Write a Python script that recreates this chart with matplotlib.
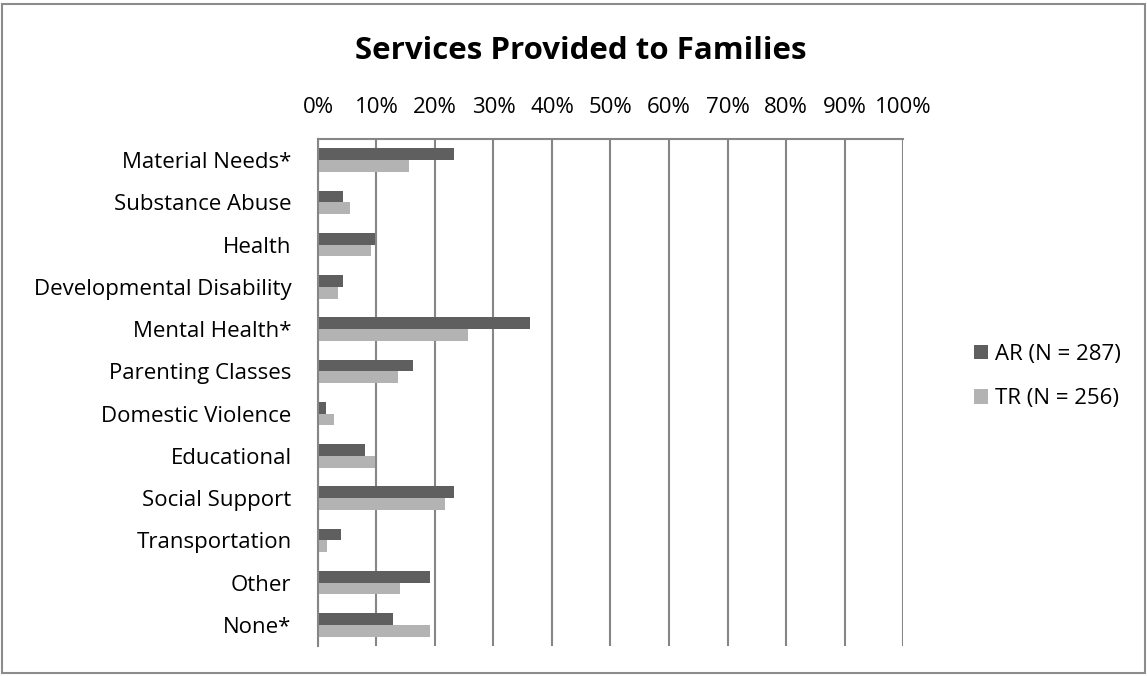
import numpy as np
import matplotlib.pyplot as plt
from matplotlib.patches import Rectangle

plt.rcParams['font.family'] = ['Open Sans', 'DejaVu Sans']

# Percent of families receiving each service
categories = ['Material Needs*', 'Substance Abuse', 'Health', 'Developmental Disability',
              'Mental Health*', 'Parenting Classes', 'Domestic Violence', 'Educational',
              'Social Support', 'Transportation', 'Other', 'None*']
ar_pct = [23.3, 4.2, 9.7, 4.2, 36.2, 16.3, 1.4, 8.0, 23.3, 3.9, 19.1, 12.8]
tr_pct = [15.6, 5.5, 9.0, 3.5, 25.7, 13.6, 2.7, 9.7, 21.8, 1.5, 14.0, 19.1]
series_labels = ['AR (N = 287)', 'TR (N = 256)']
tick_vals = np.arange(0, 101, 10)

fig = plt.figure(figsize=(11.47, 6.76), dpi=100)
fig.patches.append(Rectangle((0.002, 0.004), 0.996, 0.99, transform=fig.transFigure,
                             fill=False, edgecolor='#8c8c8c', linewidth=1.5))

ax = fig.add_axes([0.2772, 0.0444, 0.5101, 0.75])
y = np.arange(len(categories))
h = 0.277
ax.barh(y - h / 2, ar_pct, height=h, color='#5f5f5f', label=series_labels[0], zorder=3)
ax.barh(y + h / 2, tr_pct, height=h, color='#b3b3b3', label=series_labels[1], zorder=3)

ax.set_xlim(0, 100)
ax.set_ylim(len(categories) - 0.5, -0.5)
ax.set_xticks(tick_vals)
ax.set_xticklabels([f'{v}%' for v in tick_vals], fontsize=16)
ax.xaxis.tick_top()
ax.set_yticks(y)
ax.set_yticklabels(categories, fontsize=16)
ax.tick_params(axis='x', length=0, pad=15)
ax.tick_params(axis='y', length=0, pad=19)
ax.grid(axis='x', color='#868686', linewidth=1.5, zorder=0)

for side in ['right', 'bottom']:
    ax.spines[side].set_visible(False)
ax.spines['top'].set_color('#868686')
ax.spines['top'].set_linewidth(1.5)
ax.spines['left'].set_color('#868686')
ax.spines['left'].set_linewidth(1.5)
ax.spines['left'].set_zorder(4)

fig.text(0.506, 0.924, 'Services Provided to Families', ha='center', va='center',
         fontsize=22.5, fontweight='bold')

fig.legend(loc='center left', bbox_to_anchor=(0.849, 0.443), frameon=False,
           fontsize=16, handlelength=0.65, handleheight=0.65, handletextpad=0.3,
           labelspacing=1.05, borderpad=0, borderaxespad=0)

fig.savefig('out.png', dpi=100)
